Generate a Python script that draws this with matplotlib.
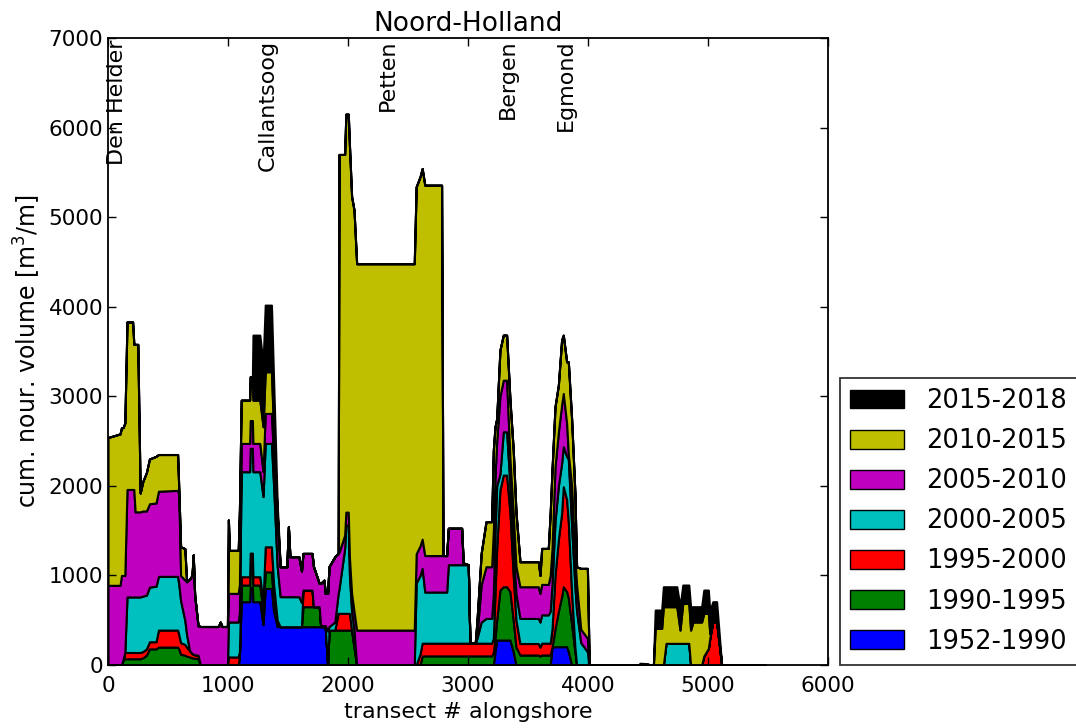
import matplotlib
matplotlib.use("Agg")
import matplotlib.pyplot as plt
from matplotlib.patches import Patch

# transect position alongshore
transect = [0, 100, 112, 125, 140, 158, 205, 215, 226, 248,
            268, 290, 320, 345, 400, 420, 580, 590, 605, 640,
            655, 680, 700, 710, 722, 750, 770, 920, 935, 950,
            995, 1003, 1012, 1085, 1095, 1110, 1180, 1185, 1203, 1208,
            1265, 1292, 1310, 1362, 1380, 1410, 1435, 1490, 1503, 1516,
            1590, 1612, 1625, 1700, 1712, 1760, 1772, 1800, 1810, 1830,
            1842, 1890, 1918, 1925, 1972, 1982, 2002, 2012, 2030, 2050,
            2072, 2552, 2568, 2600, 2618, 2640, 2780, 2792, 2822, 2836,
            2947, 2960, 3002, 3016, 3060, 3075, 3110, 3150, 3197, 3211,
            3225, 3239, 3266, 3294, 3322, 3350, 3377, 3400, 3433, 3586,
            3600, 3614, 3669, 3685, 3700, 3725, 3753, 3780, 3794, 3822,
            3836, 3864, 3891, 3905, 3940, 3995, 4010, 4420, 4433, 4500,
            4512, 4545, 4560, 4614, 4628, 4650, 4740, 4767, 4790, 4840,
            4855, 4875, 4947, 4965, 5003, 5015, 5040, 5072, 5114, 5475]

# cumulative nourishment volume [m3/m] at the end of each period
cum_1990 = [0, 0, 0, 0, 0, 0, 0, 0, 0, 0,
            0, 0, 0, 0, 0, 0, 0, 0, 0, 0,
            0, 0, 0, 0, 0, 0, 0, 0, 0, 0,
            0, 0, 0, 0, 100, 707, 707, 870, 870, 707,
            707, 450, 855, 855, 600, 430, 428, 428, 428, 428,
            428, 428, 428, 428, 428, 428, 428, 428, 428, 0,
            0, 0, 0, 0, 0, 0, 0, 0, 0, 0,
            0, 0, 0, 0, 0, 0, 0, 0, 0, 0,
            0, 0, 0, 0, 0, 0, 0, 0, 0, 0,
            150, 279, 279, 279, 279, 279, 150, 0, 0, 0,
            0, 0, 0, 0, 200, 205, 205, 205, 205, 205,
            150, 0, 0, 0, 0, 0, 0, 0, 0, 0,
            0, 0, 0, 0, 0, 0, 0, 0, 0, 0,
            0, 0, 0, 0, 0, 0, 0, 0, 0, 0]

cum_1995 = [0, 0, 0, 60, 70, 70, 70, 70, 70, 70,
            70, 80, 110, 180, 180, 200, 200, 180, 120, 110,
            100, 90, 80, 80, 75, 70, 0, 0, 0, 0,
            0, 0, 0, 0, 100, 893, 893, 1130, 1130, 893,
            893, 600, 1040, 1040, 700, 450, 428, 428, 428, 428,
            428, 428, 651, 651, 651, 651, 428, 428, 428, 0,
            390, 390, 390, 390, 390, 390, 390, 390, 390, 200,
            0, 0, 0, 0, 100, 102, 102, 102, 102, 102,
            102, 102, 102, 102, 102, 102, 102, 102, 102, 140,
            300, 500, 837, 874, 874, 820, 500, 200, 112, 112,
            100, 112, 112, 112, 200, 400, 600, 763, 874, 820,
            750, 450, 150, 0, 0, 0, 0, 0, 0, 0,
            0, 0, 0, 0, 0, 0, 0, 0, 0, 0,
            0, 0, 0, 0, 0, 0, 0, 0, 0, 0]

cum_2000 = [0, 0, 0, 60, 140, 140, 140, 140, 140, 140,
            140, 150, 180, 260, 260, 390, 390, 340, 250, 230,
            200, 160, 130, 120, 115, 110, 0, 0, 0, 0,
            0, 90, 90, 90, 150, 986, 986, 1250, 1250, 986,
            986, 700, 1320, 1320, 900, 500, 428, 428, 428, 428,
            428, 428, 837, 837, 651, 651, 428, 428, 428, 0,
            390, 390, 577, 577, 577, 577, 577, 577, 390, 200,
            0, 0, 0, 122, 244, 244, 244, 244, 244, 244,
            244, 244, 244, 244, 244, 244, 244, 244, 244, 300,
            800, 1300, 1953, 2120, 2120, 1700, 1000, 500, 240, 240,
            200, 244, 244, 244, 400, 1000, 1400, 1693, 1990, 1850,
            1600, 800, 200, 0, 0, 0, 0, 0, 0, 0,
            0, 0, 0, 0, 0, 0, 0, 0, 0, 0,
            0, 0, 0, 100, 186, 300, 484, 484, 0, 0]

cum_2005 = [0, 0, 0, 60, 140, 760, 760, 760, 760, 760,
            760, 770, 780, 870, 880, 990, 990, 900, 720, 500,
            340, 160, 130, 120, 115, 110, 0, 0, 0, 0,
            0, 480, 480, 480, 600, 2158, 2158, 2420, 2420, 2158,
            2158, 1880, 2474, 2474, 2000, 1100, 763, 763, 763, 763,
            763, 700, 837, 837, 651, 651, 440, 440, 440, 380,
            430, 480, 800, 850, 1300, 1560, 1560, 1000, 600, 400,
            0, 0, 916, 1000, 1079, 815, 815, 815, 815, 1120,
            1120, 1120, 1120, 244, 244, 300, 480, 520, 520, 800,
            1500, 2000, 2130, 2604, 2604, 2000, 1300, 800, 520, 520,
            480, 560, 560, 600, 900, 1600, 2000, 2250, 2437, 2330,
            2300, 1544, 874, 600, 250, 150, 0, 0, 0, 0,
            0, 0, 0, 0, 0, 242, 242, 242, 242, 242,
            0, 0, 0, 100, 186, 300, 484, 484, 0, 0]

cum_2010 = [890, 890, 1000, 1000, 1000, 1960, 1960, 1960, 1710, 1710,
            1710, 1720, 1720, 1800, 1810, 1940, 1950, 1900, 1000, 950,
            930, 960, 1000, 1230, 780, 440, 430, 430, 480, 430,
            430, 800, 800, 800, 900, 2474, 2474, 2730, 2730, 2474,
            2474, 2160, 2809, 2809, 2300, 1600, 1097, 1097, 1544, 1209,
            1209, 1050, 1246, 1246, 1100, 911, 911, 948, 800, 800,
            1100, 1209, 1250, 1260, 1450, 1707, 1707, 1200, 800, 600,
            390, 390, 1242, 1330, 1405, 1222, 1222, 1222, 1222, 1527,
            1527, 1140, 1120, 244, 244, 350, 900, 1097, 1097, 1500,
            2100, 2500, 3000, 3180, 3180, 2300, 1700, 1100, 874, 874,
            800, 900, 900, 1000, 1300, 2213, 2600, 2902, 3032, 2700,
            2362, 2000, 1200, 900, 400, 300, 0, 0, 0, 0,
            0, 0, 0, 0, 0, 242, 242, 242, 242, 242,
            0, 0, 0, 100, 186, 300, 484, 484, 0, 0]

cum_2015 = [2540, 2580, 2650, 2650, 2700, 3830, 3830, 3580, 3580, 3580,
            1920, 2050, 2150, 2300, 2330, 2350, 2350, 1950, 1320, 1300,
            930, 960, 1000, 1230, 780, 440, 430, 430, 480, 430,
            430, 1620, 1280, 1280, 1730, 2957, 2957, 3220, 3220, 2957,
            2957, 2660, 3274, 3274, 2600, 1700, 1097, 1097, 1544, 1209,
            1209, 1050, 1246, 1246, 1100, 911, 911, 948, 800, 800,
            1100, 1209, 1250, 5700, 5700, 6150, 6150, 5800, 5230, 5080,
            4480, 4480, 5340, 5450, 5543, 5357, 5357, 1222, 1222, 1527,
            1527, 1140, 1120, 244, 244, 500, 1250, 1600, 1600, 2400,
            2660, 2750, 3515, 3683, 3683, 2950, 2400, 1700, 1153, 1153,
            1000, 1302, 1302, 1700, 2176, 2883, 3125, 3627, 3683, 3385,
            3385, 2734, 1916, 1097, 1079, 1079, 0, 0, 0, 0,
            0, 0, 409, 409, 651, 651, 651, 390, 688, 688,
            390, 480, 480, 577, 577, 350, 484, 484, 0, 0]

cum_2018 = [2540, 2580, 2650, 2650, 2700, 3830, 3830, 3580, 3580, 3580,
            1920, 2050, 2150, 2300, 2330, 2350, 2350, 1950, 1320, 1300,
            930, 960, 1000, 1230, 780, 440, 430, 430, 480, 430,
            430, 1620, 1280, 1280, 1730, 2957, 2957, 3220, 3220, 3683,
            3683, 3367, 4018, 4018, 3180, 1800, 1097, 1097, 1544, 1209,
            1209, 1050, 1246, 1246, 1100, 911, 911, 948, 800, 800,
            1100, 1209, 1250, 5700, 5700, 6150, 6150, 5800, 5230, 5080,
            4480, 4480, 5340, 5450, 5543, 5357, 5357, 1222, 1222, 1527,
            1527, 1140, 1120, 244, 244, 500, 1250, 1600, 1600, 2400,
            2660, 2750, 3515, 3683, 3683, 2950, 2400, 1700, 1153, 1153,
            1000, 1302, 1302, 1700, 2176, 2883, 3125, 3627, 3683, 3385,
            3385, 2734, 1916, 1097, 1079, 1079, 0, 0, 20, 15,
            0, 0, 614, 614, 874, 874, 874, 651, 893, 893,
            651, 651, 651, 837, 837, 600, 707, 707, 0, 0]

periods = ['1952-1990', '1990-1995', '1995-2000', '2000-2005',
           '2005-2010', '2010-2015', '2015-2018']
colors = ['b', 'g', 'r', 'c', 'm', 'y', 'k']

places = ['Den Helder', 'Callantsoog', 'Petten', 'Bergen', 'Egmond']
place_transect = [75, 1333, 2333, 3333, 3817]

plt.rcParams['font.family'] = 'DejaVu Sans'
plt.rcParams['xtick.direction'] = 'in'
plt.rcParams['ytick.direction'] = 'in'
plt.rcParams['xtick.top'] = True
plt.rcParams['ytick.right'] = True

fig = plt.figure(figsize=(10.76, 7.28), dpi=100)
ax = fig.add_axes([0.1004, 0.0865, 0.6691, 0.8613])

tops = [cum_1990, cum_1995, cum_2000, cum_2005, cum_2010, cum_2015, cum_2018]
lower = [0] * len(transect)
for top, col in zip(tops, colors):
    ax.fill_between(transect, lower, top, facecolor=col, edgecolor='k',
                    linewidth=1.5)
    lower = top

for name, xt in zip(places, place_transect):
    ax.text(xt, 6980, name, rotation=90, ha='center', va='top', fontsize=16)

ax.set_xlim(0, 6000)
ax.set_ylim(0, 7000)
ax.set_xticks([0, 1000, 2000, 3000, 4000, 5000, 6000])
ax.set_yticks([0, 1000, 2000, 3000, 4000, 5000, 6000, 7000])
ax.tick_params(labelsize=15.5, length=6, width=1)
ax.tick_params(axis='x', pad=8)
for s in ax.spines.values():
    s.set_linewidth(1.3)
ax.set_xlabel('transect # alongshore', fontsize=16, labelpad=4)
ax.set_ylabel('cum. nour. volume [m$^3$/m]', fontsize=17)
ax.set_title('Noord-Holland', fontsize=19, pad=5)

handles = [Patch(facecolor=c, edgecolor='k', label=p)
           for c, p in zip(colors[::-1], periods[::-1])]
leg = ax.legend(handles=handles, loc='lower left', bbox_to_anchor=(1.017, 0),
                borderaxespad=0, fontsize=18.5, fancybox=False,
                handlelength=2.1, handleheight=0.75, handletextpad=0.85,
                labelspacing=0.55)
leg.get_frame().set_edgecolor('k')
leg.get_frame().set_linewidth(1.3)

fig.savefig('out.png', dpi=100)
